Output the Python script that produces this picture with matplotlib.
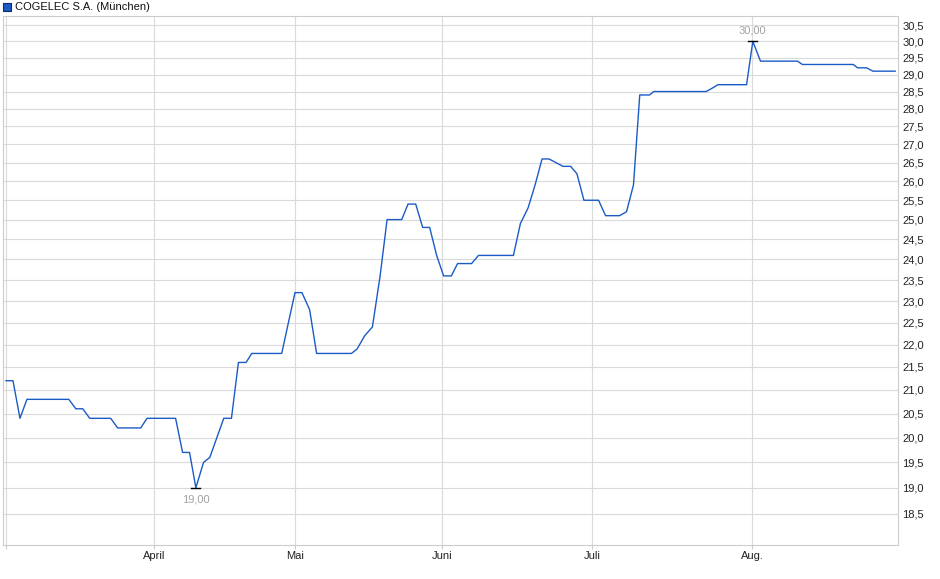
import matplotlib
matplotlib.use("Agg")
import matplotlib.pyplot as plt
from matplotlib.patches import Rectangle
from matplotlib.ticker import NullLocator, FixedLocator

plt.rcParams['font.family'] = ['Liberation Sans', 'DejaVu Sans']

# trading-day position and price (EUR) at each turning point of the line
day = [0.0, 1.0, 2.0, 3.0, 9.0, 10.0, 11.0, 12.0, 15.0, 16.0,
       19.3, 20.2, 24.3, 25.3, 26.3, 27.2, 28.3, 29.2, 31.2, 32.3,
       33.3, 34.4, 35.2, 39.5, 41.4, 42.4, 43.5, 44.5, 49.5, 50.3,
       51.4, 52.5, 53.6, 54.6, 56.7, 57.6, 58.7, 59.7, 60.7, 61.7,
       62.7, 63.8, 64.7, 66.7, 67.7, 72.7, 73.7, 74.8, 75.8, 76.8,
       77.8, 78.8, 79.8, 80.9, 81.8, 82.8, 84.9, 85.9, 87.9, 88.9,
       89.9, 90.8, 92.2, 92.8, 100.3, 101.2, 102.0, 106.1, 107.0, 108.1,
       113.4, 114.1, 121.4, 122.0, 123.3, 124.2, 127.4]
price = [21.2, 21.2, 20.4, 20.8, 20.8, 20.6, 20.6, 20.4, 20.4, 20.2,
         20.2, 20.4, 20.4, 19.7, 19.7, 19.0, 19.5, 19.6, 20.4, 20.4,
         21.6, 21.6, 21.8, 21.8, 23.2, 23.2, 22.8, 21.8, 21.8, 21.9,
         22.2, 22.4, 23.6, 25.0, 25.0, 25.4, 25.4, 24.8, 24.8, 24.1,
         23.6, 23.6, 23.9, 23.9, 24.1, 24.1, 24.9, 25.3, 25.9, 26.6,
         26.6, 26.5, 26.4, 26.4, 26.2, 25.5, 25.5, 25.1, 25.1, 25.2,
         25.9, 28.4, 28.4, 28.5, 28.5, 28.6, 28.7, 28.7, 30.0, 29.4,
         29.4, 29.3, 29.3, 29.2, 29.2, 29.1, 29.1]

month_pos = [0.0, 21.2, 41.4, 62.5, 84.0, 106.9]
month_lab = ['', 'April', 'Mai', 'Juni', 'Juli', 'Aug.']
y_ticks = [18.5 + 0.5 * i for i in range(25)]

low_day, low_val = 27.2, 19.0
high_day, high_val = 107.0, 30.0

W, H = 940, 579
fig = plt.figure(figsize=(W / 100, H / 100), dpi=100)
ax = fig.add_axes([3 / W, (H - 545) / H, (898 - 3) / W, (545 - 16) / H])

ax.plot(day, price, color='#1a5bc6', lw=1.0, zorder=3)

ax.set_yscale('log')
ax.set_ylim(17.92, 30.79)
ax.set_xlim(-0.43, 127.8)

ax.yaxis.set_major_locator(FixedLocator(y_ticks))
ax.yaxis.set_minor_locator(NullLocator())
ax.set_yticklabels([f'{v:.1f}'.replace('.', ',') for v in y_ticks])
ax.yaxis.tick_right()
ax.tick_params(axis='y', length=0, pad=3, labelsize=8, colors='#222222')

ax.set_xticks(month_pos)
ax.set_xticklabels(month_lab)
ax.xaxis.set_minor_locator(NullLocator())
ax.tick_params(axis='x', length=3, width=0.8, color='#cccccc', pad=1,
               labelsize=8, labelcolor='#222222')

ax.grid(True, color='#dadada', lw=0.8, zorder=0)
for s in ax.spines.values():
    s.set_color('#cccccc')
    s.set_linewidth(0.8)

# high / low markers
for d, v, dy, va in [(low_day, low_val, -5, 'top'), (high_day, high_val, 4, 'bottom')]:
    ax.plot([d - 0.65, d + 0.65], [v, v], color='black', lw=1.0, zorder=4)
    ax.annotate(f'{v:.2f}'.replace('.', ','), (d, v), xytext=(0, dy),
                textcoords='offset points', ha='center', va=va,
                fontsize=8, color='#a3a3a3')

# legend
fig.patches.append(Rectangle((3 / W, (H - 11) / H), 8 / W, 8 / H,
                             transform=fig.transFigure, facecolor='#1a5bc6',
                             edgecolor='#0d2a66', lw=0.8))
fig.text(15 / W, (H - 7) / H, 'COGELEC S.A. (München)', fontsize=8,
         va='center', ha='left', color='#111111')

fig.savefig('out.png', dpi=100)
